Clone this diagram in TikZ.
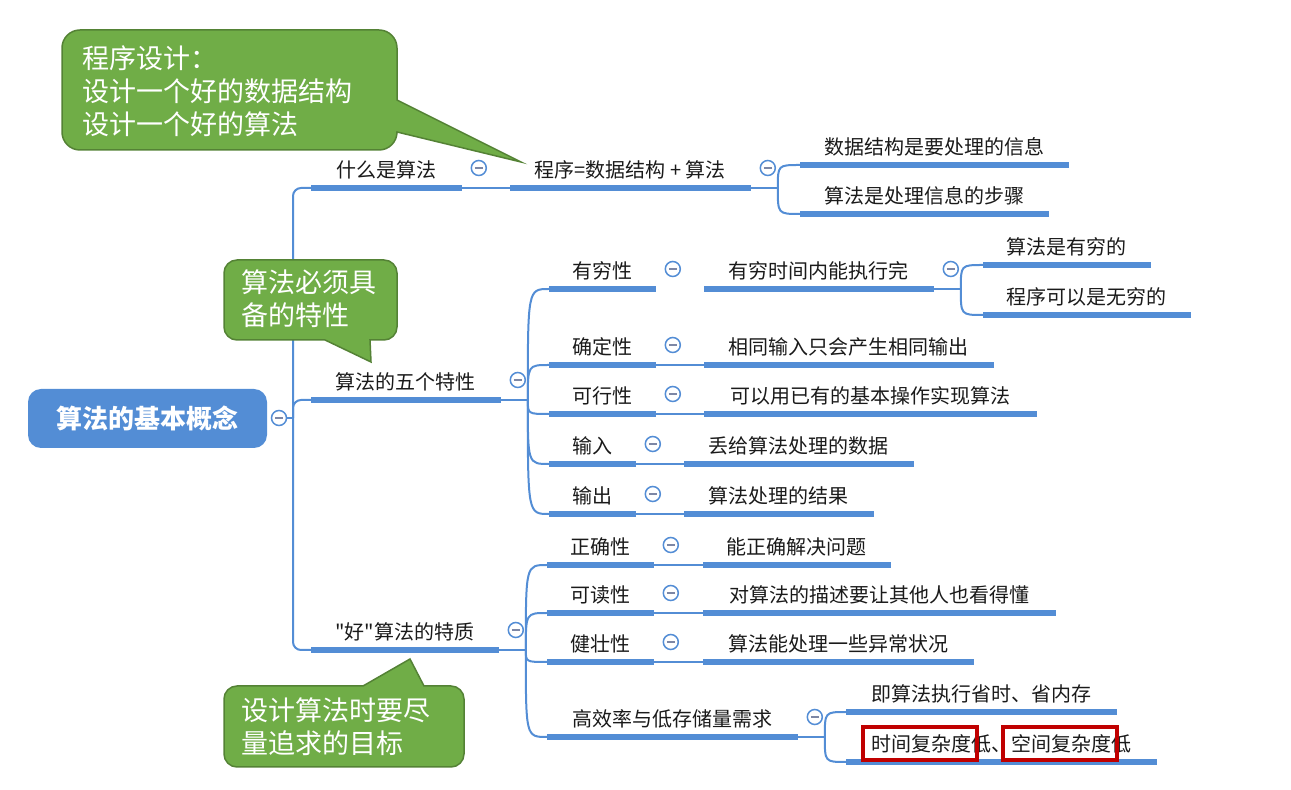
\documentclass[tikz,border=0pt]{standalone}
\usepackage{fontspec}
\setmainfont{Noto Sans CJK SC}[Ligatures=TeXOff]
\usepackage{xcolor}
\usepackage{tikz}
\definecolor{mapblue}{RGB}{83,141,213}
\definecolor{notegreen}{RGB}{112,173,71}
\definecolor{noteedge}{RGB}{84,130,53}
\definecolor{markred}{RGB}{192,0,0}
\definecolor{foldgrey}{RGB}{125,135,165}
\definecolor{inkblack}{RGB}{26,26,26}
\tikzset{
  topic/.style={anchor=south west,inner sep=0pt,text height=8pt,text depth=5pt,
    font=\fontsize{10pt}{12pt}\selectfont,text=inkblack},
  rootbox/.style={fill=mapblue,rounded corners=6.5pt,minimum width=119.5pt,
    minimum height=29.5pt,inner sep=0pt,text=white,
    font=\fontsize{13pt}{15pt}\selectfont\bfseries},
  uline/.style={draw=mapblue,line width=3pt},
  branch/.style={draw=mapblue,line width=1pt},
  fold/.style={circle,draw=mapblue,line width=0.75pt,fill=white,
    minimum size=7.5pt,inner sep=0pt,
    path picture={\draw[foldgrey,line width=0.9pt]
      ([xshift=-2pt]path picture bounding box.center) --
      ([xshift=2pt]path picture bounding box.center);}},
  notebox/.style={draw=noteedge,line width=0.75pt,fill=notegreen},
  notetext/.style={anchor=west,align=left,inner sep=0pt,text=white,
    font=\fontsize{13.5pt}{16.5pt}\selectfont},
  markbox/.style={draw=markred,line width=2pt,minimum width=57pt,
    minimum height=16.5pt,inner sep=0pt}
}
\begin{document}
\begin{tikzpicture}[x=0.5pt,y=-0.5pt]
  \useasboundingbox (0,0) rectangle (1291,790);
  % root
  \node[rootbox] (root) at (147.5,418.5) {算法的基本概念};
  \node[fold] (root-f) at (279,418) {};
  \coordinate (trunk) at (293,418);

  % what is an algorithm
  \node[topic,minimum width=75pt] (what) at (311,188) {什么是算法};
  \node[topic,minimum width=120pt] (prog) at (510,188) {程序=数据结构 + 算法};
  \node[topic,minimum width=134pt] (ds) at (800,165) {数据结构是要处理的信息};
  \node[topic,minimum width=124pt] (steps) at (800,214) {算法是处理信息的步骤};

  % five properties
  \node[topic,minimum width=94.5pt] (five) at (311,400) {算法的五个特性};
  \node[topic,minimum width=53pt] (fin) at (549,289) {有穷性};
  \node[topic,minimum width=114.5pt] (fint) at (704,289) {有穷时间内能执行完};
  \node[topic,minimum width=83.5pt] (fina) at (983,265) {算法是有穷的};
  \node[topic,minimum width=103.5pt] (finb) at (983,315) {程序可以是无穷的};
  \node[topic,minimum width=53pt] (det) at (549,365) {确定性};
  \node[topic,minimum width=144.5pt] (dett) at (704,365) {相同输入只会产生相同输出};
  \node[topic,minimum width=53pt] (fea) at (549,414) {可行性};
  \node[topic,minimum width=166pt] (feat) at (704,414) {可以用已有的基本操作实现算法};
  \node[topic,minimum width=43pt] (inp) at (549,464) {输入};
  \node[topic,minimum width=114.5pt] (inpt) at (684,464) {丢给算法处理的数据};
  \node[topic,minimum width=43pt] (outp) at (549,514) {输出};
  \node[topic,minimum width=94.5pt] (outpt) at (684,514) {算法处理的结果};

  % good algorithm
  \node[topic,minimum width=93.5pt] (good) at (311,650) {"好"算法的特质};
  \node[topic,minimum width=53pt] (cor) at (547,565) {正确性};
  \node[topic,minimum width=93.5pt] (cort) at (703,565) {能正确解决问题};
  \node[topic,minimum width=53pt] (rea) at (547,613) {可读性};
  \node[topic,minimum width=176pt] (reat) at (703,613) {对算法的描述要让其他人也看得懂};
  \node[topic,minimum width=53pt] (rob) at (547,662) {健壮性};
  \node[topic,minimum width=135pt] (robt) at (703,662) {算法能处理一些异常状况};
  \node[topic,minimum width=125pt] (eff) at (547,737) {高效率与低存储量需求};
  \node[topic,minimum width=135pt] (effa) at (846,712) {即算法执行省时、省内存};
  \node[topic,minimum width=155pt] (effb) at (846,762) {时间复杂度低、空间复杂度低};

  % underlines
  \foreach \n in {what,prog,ds,steps,five,fin,fint,fina,finb,det,dett,fea,feat,
      inp,inpt,outp,outpt,good,cor,cort,rea,reat,rob,robt,eff,effa,effb}
    \draw[uline] (\n.south west) -- (\n.south east);

  % trunk
  \draw[branch] (root-f) -- (trunk);
  \foreach \n in {what,five,good}
    \draw[branch,rounded corners=4pt] (trunk) |- (\n.south west);

  % straight links
  \foreach \a/\b in {what/prog,det/dett,fea/feat,inp/inpt,outp/outpt,
      cor/cort,rea/reat,rob/robt}
    \draw[branch] (\a.south east) -- (\b.south west);

  % forks
  \foreach \p/\kids in {prog/{ds,steps},fint/{fina,finb},
      five/{fin,det,fea,inp,outp},good/{cor,rea,rob,eff},eff/{effa,effb}} {
    \coordinate (\p-j) at ([xshift=13.5pt]\p.south east);
    \draw[branch] (\p.south east) -- (\p-j);
    \foreach \c in \kids
      \draw[branch] (\p-j) .. controls (\p-j |- \c.south west) .. (\c.south west);
  }

  % fold buttons
  \foreach \n in {what,prog,five,fin,fint,det,fea,inp,outp,good,cor,rea,rob,eff}
    \node[fold] (\n-f) at ([shift={(17,-20)}]\n.south east) {};

  % red marks
  \node[markbox] (mark1) at (920,743.5) {};
  \node[markbox] (mark2) at (1060,743.5) {};

  % callouts
  \draw[notebox] (80,30) -- (379,30) arc[start angle=90,end angle=0,radius=9pt]
    -- (397,100) -- (521,162) -- (397,132)
    arc[start angle=0,end angle=-90,radius=9pt] -- (80,150)
    arc[start angle=270,end angle=180,radius=9pt] -- (62,48)
    arc[start angle=180,end angle=90,radius=9pt] -- cycle;
  \node[notetext] (note1) at (82,91) {程序设计：\\设计一个好的数据结构\\设计一个好的算法};

  \draw[notebox] (237,260) -- (384,260) arc[start angle=90,end angle=0,radius=6.5pt]
    -- (397,327) arc[start angle=0,end angle=-90,radius=6.5pt]
    -- (370,340) -- (371,362) -- (325,340) -- (237,340)
    arc[start angle=270,end angle=180,radius=6.5pt] -- (224,273)
    arc[start angle=180,end angle=90,radius=6.5pt] -- cycle;
  \node[notetext] (note2) at (241,299) {算法必须具\\备的特性};

  \draw[notebox] (237,686) -- (363,686) -- (410,659) -- (424,686) -- (451,686)
    arc[start angle=90,end angle=0,radius=6.5pt] -- (464,754)
    arc[start angle=0,end angle=-90,radius=6.5pt] -- (237,767)
    arc[start angle=270,end angle=180,radius=6.5pt] -- (224,699)
    arc[start angle=180,end angle=90,radius=6.5pt] -- cycle;
  \node[notetext] (note3) at (241,727) {设计算法时要尽\\量追求的目标};
\end{tikzpicture}
\end{document}
